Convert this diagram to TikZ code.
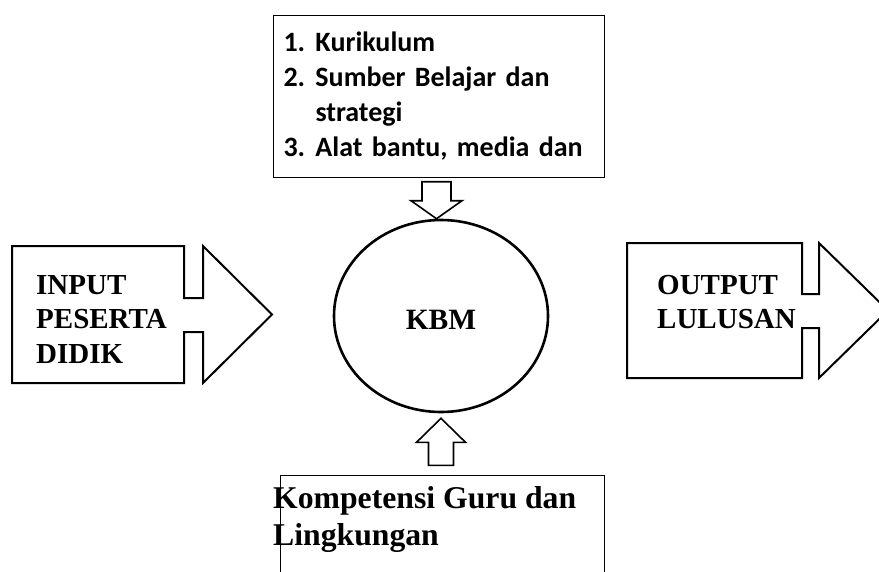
\documentclass[tikz,border=0pt]{standalone}
\usepackage{fontspec}
\setmainfont{Liberation Serif}
\newfontfamily\calibri{Carlito}
\usetikzlibrary{positioning,shapes.geometric}

\begin{document}
\begin{tikzpicture}[x=1pt, y=-1pt,
		blockarrow/.style = {draw, line width=2pt, line join=miter},
		smallarrow/.style = {draw, line width=1.6pt, line join=miter},
		boxline/.style    = {draw, line width=1pt},
		listbox/.style    = {boxline, rectangle, anchor=north west, align=left, inner xsep=10pt,
			minimum width=331pt, minimum height=162pt, text width=311pt,
			font=\calibri\bfseries\fontsize{28}{35}\selectfont},
		title/.style      = {inner sep=0pt, anchor=north west, align=left,
			font=\bfseries\fontsize{29}{34.5}\selectfont},
		center/.style     = {ellipse, draw, line width=2.6pt, minimum width=214pt, minimum height=192pt,
			text height=26pt, text depth=0pt, font=\bfseries\fontsize{29.5}{34}\selectfont}]
		
		\useasboundingbox (0,0) rectangle (879,571);
		
		% the learning process in the middle
		\node[center] (kbm) at (441,316) {KBM};
		
		% what goes in, from above
		\node[listbox] (sumber) at (273,15) {%
			\makebox[32pt][l]{1.}Kurikulum\\
			\makebox[32pt][l]{2.}Sumber Belajar dan\\
			\hspace*{32pt}strategi\\
			\makebox[32pt][l]{3.}Alat bantu, media dan};
		
		% what goes in, from below (the box runs off the page)
		\draw[boxline] (280,580) |- (604,475) -- (604,580);
		\node[title, font=\bfseries\fontsize{31.7}{37}\selectfont] (guru) at (273,486.5) {Kompetensi Guru dan\\Lingkungan};
		
		% input and output texts
		\node[title] (input) at (36,275) {INPUT\\PESERTA\\DIDIK};
		\node[title] (output) at (657,274.8) {OUTPUT\\LULUSAN};
		
		% box with arrow head round each of them
		\draw[blockarrow] (12,246) -| (184,298) -| (203,246) -- (272,314.5) -- (203,383)
			|- (184,332) |- (12,383) -- cycle;
		\draw[blockarrow] (627,243) -| (802,294) -| (819,243) -- (888,310.5) -- (819,378)
			|- (802,328) |- (627,378) -- cycle;
		
		% small arrows into the circle
		\draw[smallarrow] ([xshift=-4.5pt]kbm.north) -- ++(-25.5,-18) -- ++(11,0) -- ++(0,-19)
			-- ++(29,0) -- ++(0,19) -- ++(11,0) -- cycle;
		\draw[smallarrow] ([yshift=-5pt]kbm.south) -- ++(-24.5,24) -- ++(12,0) -- ++(0,23)
			-- ++(25,0) -- ++(0,-23) -- ++(12,0) -- cycle;
		
	\end{tikzpicture}
\end{document}
